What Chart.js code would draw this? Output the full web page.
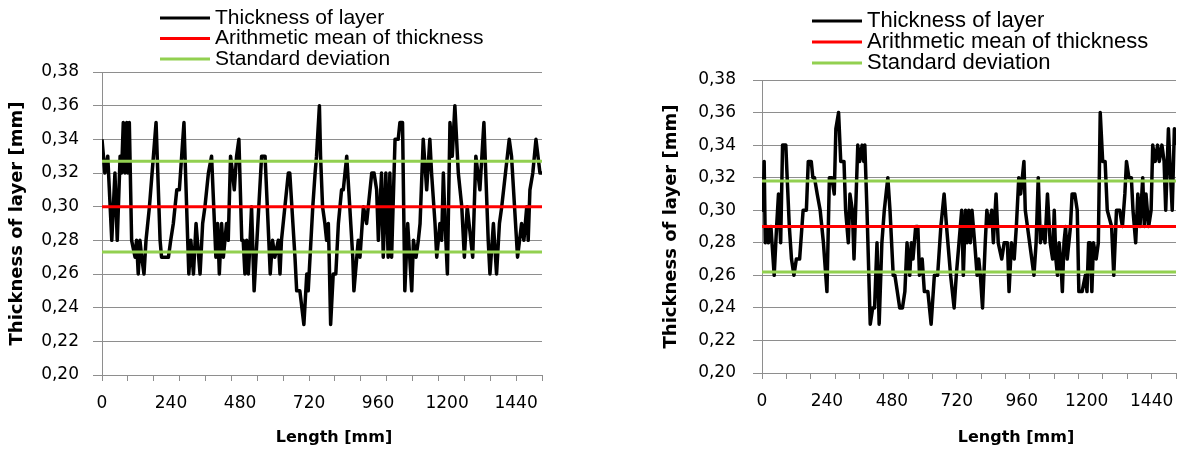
<!DOCTYPE html>
<html>
<head>
<meta charset="utf-8">
<script src="https://cdn.jsdelivr.net/npm/chart.js@4.4.1/dist/chart.umd.min.js"></script>
<style>
  html, body { margin: 0; padding: 0; background: #fff; }
  body { width: 1188px; height: 452px; position: relative; overflow: hidden; }
  canvas { position: absolute; top: 0; }
  #left { left: 0; }
  #right { left: 640px; }
</style>
</head>
<body>
<canvas id="left" width="560" height="452"></canvas>
<canvas id="right" width="548" height="452"></canvas>
<script>
// axis ticks
const yTicks = [0.20, 0.22, 0.24, 0.26, 0.28, 0.30, 0.32, 0.34, 0.36, 0.38];
const xLabels = [0, 240, 480, 720, 960, 1200, 1440];
const xMarks = [0, 90, 180, 270, 360, 450, 540, 630, 720, 810, 900, 990, 1080, 1170, 1260, 1350, 1440, 1530];
const xMax = 1530;

// left chart: thickness of layer along the length
const leftLength = [0, 10, 20, 34, 45, 53, 63, 68, 74, 80, 86, 90, 95, 103, 115, 120, 126, 132, 138, 146,
  153, 165, 188, 202, 207, 231, 239, 248, 260, 269, 285, 298, 302, 309, 318, 327, 341, 350, 358, 370,
  381, 391, 396, 402, 408, 416, 422, 433, 439, 447, 454, 460, 468, 476, 486, 491, 497, 503, 509, 515,
  520, 529, 555, 567, 580, 585, 593, 601, 613, 619, 624, 648, 653, 671, 677, 688, 702, 712, 717, 733,
  741, 746, 756, 760, 767, 775, 781, 787, 790, 795, 804, 813, 822, 833, 839, 851, 872, 876, 886, 891,
  897, 909, 920, 926, 938, 946, 955, 961, 972, 978, 987, 995, 1001, 1007, 1019, 1030, 1036, 1045, 1053, 1063,
  1077, 1083, 1092, 1100, 1106, 1117, 1129, 1140, 1146, 1158, 1164, 1175, 1181, 1187, 1193, 1201, 1210, 1218, 1227, 1239,
  1251, 1260, 1270, 1289, 1300, 1314, 1328, 1343, 1349, 1361, 1372, 1382, 1390, 1416, 1424, 1445, 1459, 1467, 1477, 1482,
  1488, 1498, 1509, 1523, 1530];
const leftThickness = [0.34, 0.32, 0.33, 0.28, 0.32, 0.28, 0.33, 0.32, 0.35, 0.32, 0.35, 0.32, 0.35, 0.28, 0.27, 0.28, 0.26, 0.28, 0.27, 0.26,
  0.28, 0.30, 0.35, 0.28, 0.27, 0.27, 0.28, 0.29, 0.31, 0.31, 0.35, 0.28, 0.26, 0.28, 0.26, 0.29, 0.26, 0.29, 0.30, 0.32,
  0.33, 0.29, 0.27, 0.29, 0.26, 0.29, 0.27, 0.29, 0.28, 0.33, 0.32, 0.31, 0.33, 0.34, 0.28, 0.28, 0.26, 0.28, 0.26, 0.28,
  0.30, 0.25, 0.33, 0.33, 0.28, 0.26, 0.28, 0.27, 0.28, 0.26, 0.28, 0.32, 0.32, 0.27, 0.25, 0.25, 0.23, 0.26, 0.25, 0.30,
  0.32, 0.33, 0.36, 0.33, 0.30, 0.29, 0.28, 0.29, 0.27, 0.23, 0.26, 0.26, 0.29, 0.31, 0.31, 0.33, 0.27, 0.25, 0.27, 0.28,
  0.27, 0.30, 0.29, 0.30, 0.32, 0.32, 0.31, 0.28, 0.32, 0.27, 0.32, 0.27, 0.32, 0.27, 0.34, 0.34, 0.35, 0.35, 0.25, 0.29,
  0.25, 0.28, 0.27, 0.28, 0.29, 0.34, 0.31, 0.34, 0.32, 0.29, 0.27, 0.29, 0.28, 0.32, 0.29, 0.26, 0.35, 0.33, 0.36, 0.32,
  0.30, 0.27, 0.30, 0.27, 0.33, 0.31, 0.35, 0.28, 0.26, 0.29, 0.26, 0.29, 0.30, 0.34, 0.33, 0.27, 0.29, 0.28, 0.30, 0.28,
  0.31, 0.32, 0.34, 0.32, 0.32];
const leftMean = 0.300;
const leftStd = [0.273, 0.327];

// right chart
const rightLength = [0, 4, 8, 12, 18, 24, 33, 45, 54, 61, 69, 76, 88, 93, 101, 109, 118, 127, 139, 152,
  164, 171, 182, 188, 194, 204, 215, 227, 240, 249, 258, 267, 273, 283, 291, 303, 309, 319, 325, 334,
  340, 346, 354, 361, 370, 376, 380, 388, 400, 409, 416, 425, 433, 443, 452, 465, 473, 485, 491, 500,
  509, 519, 528, 536, 546, 552, 558, 568, 576, 582, 592, 600, 613, 625, 637, 649, 661, 673, 682, 697,
  710, 718, 728, 738, 744, 752, 758, 764, 770, 776, 786, 795, 801, 807, 815, 825, 831, 839, 849, 855,
  865, 873, 886, 895, 907, 913, 922, 932, 940, 949, 956, 968, 973, 989, 1005, 1013, 1021, 1029, 1037, 1046,
  1055, 1065, 1074, 1080, 1086, 1092, 1098, 1104, 1110, 1116, 1122, 1128, 1140, 1146, 1156, 1165, 1171, 1183, 1195, 1201,
  1207, 1213, 1219, 1225, 1235, 1243, 1250, 1259, 1268, 1276, 1292, 1300, 1310, 1322, 1332, 1341, 1347, 1356, 1365, 1371,
  1381, 1389, 1397, 1407, 1413, 1419, 1429, 1438, 1444, 1453, 1462, 1468, 1478, 1486, 1492, 1502, 1510, 1516, 1524, 1530];
const rightThickness = [0.32, 0.30, 0.33, 0.28, 0.29, 0.28, 0.29, 0.26, 0.29, 0.31, 0.28, 0.34, 0.34, 0.32, 0.29, 0.27, 0.26, 0.27, 0.27, 0.30,
  0.30, 0.33, 0.33, 0.32, 0.32, 0.31, 0.30, 0.28, 0.25, 0.32, 0.32, 0.31, 0.35, 0.36, 0.33, 0.33, 0.30, 0.28, 0.31, 0.30,
  0.27, 0.30, 0.34, 0.33, 0.34, 0.33, 0.34, 0.30, 0.23, 0.24, 0.24, 0.28, 0.23, 0.28, 0.30, 0.32, 0.30, 0.26, 0.26, 0.25,
  0.24, 0.24, 0.25, 0.28, 0.26, 0.28, 0.27, 0.29, 0.29, 0.26, 0.27, 0.25, 0.25, 0.23, 0.26, 0.26, 0.29, 0.31, 0.29, 0.26,
  0.24, 0.26, 0.28, 0.30, 0.26, 0.30, 0.28, 0.30, 0.28, 0.30, 0.28, 0.26, 0.27, 0.26, 0.24, 0.28, 0.30, 0.29, 0.30, 0.28,
  0.31, 0.28, 0.27, 0.28, 0.28, 0.25, 0.28, 0.27, 0.29, 0.32, 0.31, 0.33, 0.30, 0.28, 0.26, 0.28, 0.32, 0.28, 0.29, 0.28,
  0.31, 0.28, 0.27, 0.30, 0.27, 0.26, 0.28, 0.27, 0.25, 0.28, 0.29, 0.27, 0.29, 0.31, 0.31, 0.30, 0.25, 0.25, 0.26, 0.25,
  0.28, 0.28, 0.25, 0.28, 0.27, 0.28, 0.36, 0.33, 0.33, 0.30, 0.29, 0.26, 0.30, 0.30, 0.29, 0.31, 0.33, 0.32, 0.32, 0.30,
  0.28, 0.31, 0.29, 0.32, 0.29, 0.31, 0.29, 0.30, 0.34, 0.33, 0.34, 0.33, 0.34, 0.33, 0.30, 0.35, 0.32, 0.30, 0.35, 0.34];
const rightMean = 0.290;
const rightStd = [0.262, 0.318];

const seriesNames = ['Thickness of layer', 'Arithmetic mean of thickness', 'Standard deviation'];
const GRID = '#8e8e8e';

// legend and x title drawn on the canvas
const overlay = {
  id: 'overlay',
  afterDraw(chart, args, o) {
    const ctx = chart.ctx;
    ctx.save();
    ctx.font = o.legendFont;
    ctx.textBaseline = 'middle';
    ctx.textAlign = 'left';
    const items = chart.data.datasets.filter(d => d.inLegend);
    items.forEach((d, i) => {
      const y = o.legendY + i * o.rowH;
      ctx.strokeStyle = d.borderColor;
      ctx.lineWidth = 3;
      ctx.beginPath();
      ctx.moveTo(o.legendX, y);
      ctx.lineTo(o.legendX + o.lineLen, y);
      ctx.stroke();
      ctx.fillStyle = '#000';
      ctx.fillText(d.label, o.legendX + o.lineLen + 5, y);
    });
    ctx.font = 'bold 16px "DejaVu Sans"';
    ctx.textAlign = 'center';
    ctx.fillText('Length [mm]', o.titleX, o.titleY);
    ctx.restore();
  }
};

function makeChart(id, lengths, values, mean, std, lay) {
  const flat = v => [{ x: 0, y: v }, { x: xMax, y: v }];
  new Chart(document.getElementById(id), {
    type: 'line',
    data: {
      datasets: [
        { label: seriesNames[0], data: lengths.map((x, i) => ({ x, y: values[i] })), borderColor: '#000', borderWidth: 3.5, inLegend: true, order: 1 },
        { label: seriesNames[1], data: flat(mean), borderColor: '#ff0000', borderWidth: 3, inLegend: true, order: 0 },
        { label: seriesNames[2], data: flat(std[1]), borderColor: '#92d050', borderWidth: 3, inLegend: true, order: 0 },
        { label: seriesNames[2], data: flat(std[0]), borderColor: '#92d050', borderWidth: 3, order: 0 }
      ]
    },
    options: {
      responsive: false,
      animation: false,
      devicePixelRatio: 1,
      elements: { point: { radius: 0 }, line: { tension: 0, borderJoinStyle: 'round' } },
      layout: { padding: { top: lay.top, right: lay.right, bottom: 0, left: 0 } },
      plugins: {
        legend: { display: false },
        tooltip: { enabled: false },
        overlay: lay.overlay
      },
      scales: {
        x: {
          type: 'linear',
          min: 0,
          max: xMax,
          afterBuildTicks: s => {
            const vals = [...new Set([...xLabels, ...xMarks])].sort((a, b) => a - b);
            s.ticks = vals.map(v => ({ value: v }));
          },
          afterFit: s => { s.height = lay.xHeight; },
          grid: {
            drawOnChartArea: false,
            drawTicks: true,
            tickLength: 6,
            tickColor: c => (c.tick && xMarks.includes(c.tick.value)) ? GRID : 'rgba(0,0,0,0)'
          },
          border: { color: GRID, width: 1 },
          ticks: {
            autoSkip: false,
            maxRotation: 0,
            padding: 12,
            color: '#000',
            font: { family: 'DejaVu Sans', size: 17 },
            callback: v => xLabels.includes(v) ? String(v) : ''
          }
        },
        y: {
          min: 0.20,
          max: 0.38,
          afterBuildTicks: s => { s.ticks = yTicks.map(v => ({ value: v })); },
          afterFit: s => { s.width = lay.yWidth; },
          grid: { color: GRID, tickLength: 9, lineWidth: 1 },
          border: { color: GRID, width: 1 },
          ticks: {
            padding: lay.yPad,
            color: '#000',
            font: { family: 'DejaVu Sans', size: 17 },
            callback: v => v.toFixed(2).replace('.', ',')
          },
          title: {
            display: true,
            text: 'Thickness of layer [mm]',
            color: '#000',
            font: { family: 'DejaVu Sans', size: 18, weight: 'bold' },
            padding: { top: lay.titlePad, bottom: 0 }
          }
        }
      }
    },
    plugins: [overlay]
  });
}

makeChart('left', leftLength, leftThickness, leftMean, leftStd, {
  top: 72, right: 18, xHeight: 77, yWidth: 102, yPad: 14, titlePad: 7,
  overlay: { legendX: 160, legendY: 18, rowH: 20.5, lineLen: 50, legendFont: '21px "Liberation Sans"', titleX: 334, titleY: 438 }
});
makeChart('right', rightLength, rightThickness, rightMean, rightStd, {
  top: 80, right: 6, xHeight: 79, yWidth: 122, yPad: 17, titlePad: 21,
  overlay: { legendX: 172, legendY: 21, rowH: 21, lineLen: 50, legendFont: '22px "Liberation Sans"', titleX: 376, titleY: 438 }
});
</script>
</body>
</html>
